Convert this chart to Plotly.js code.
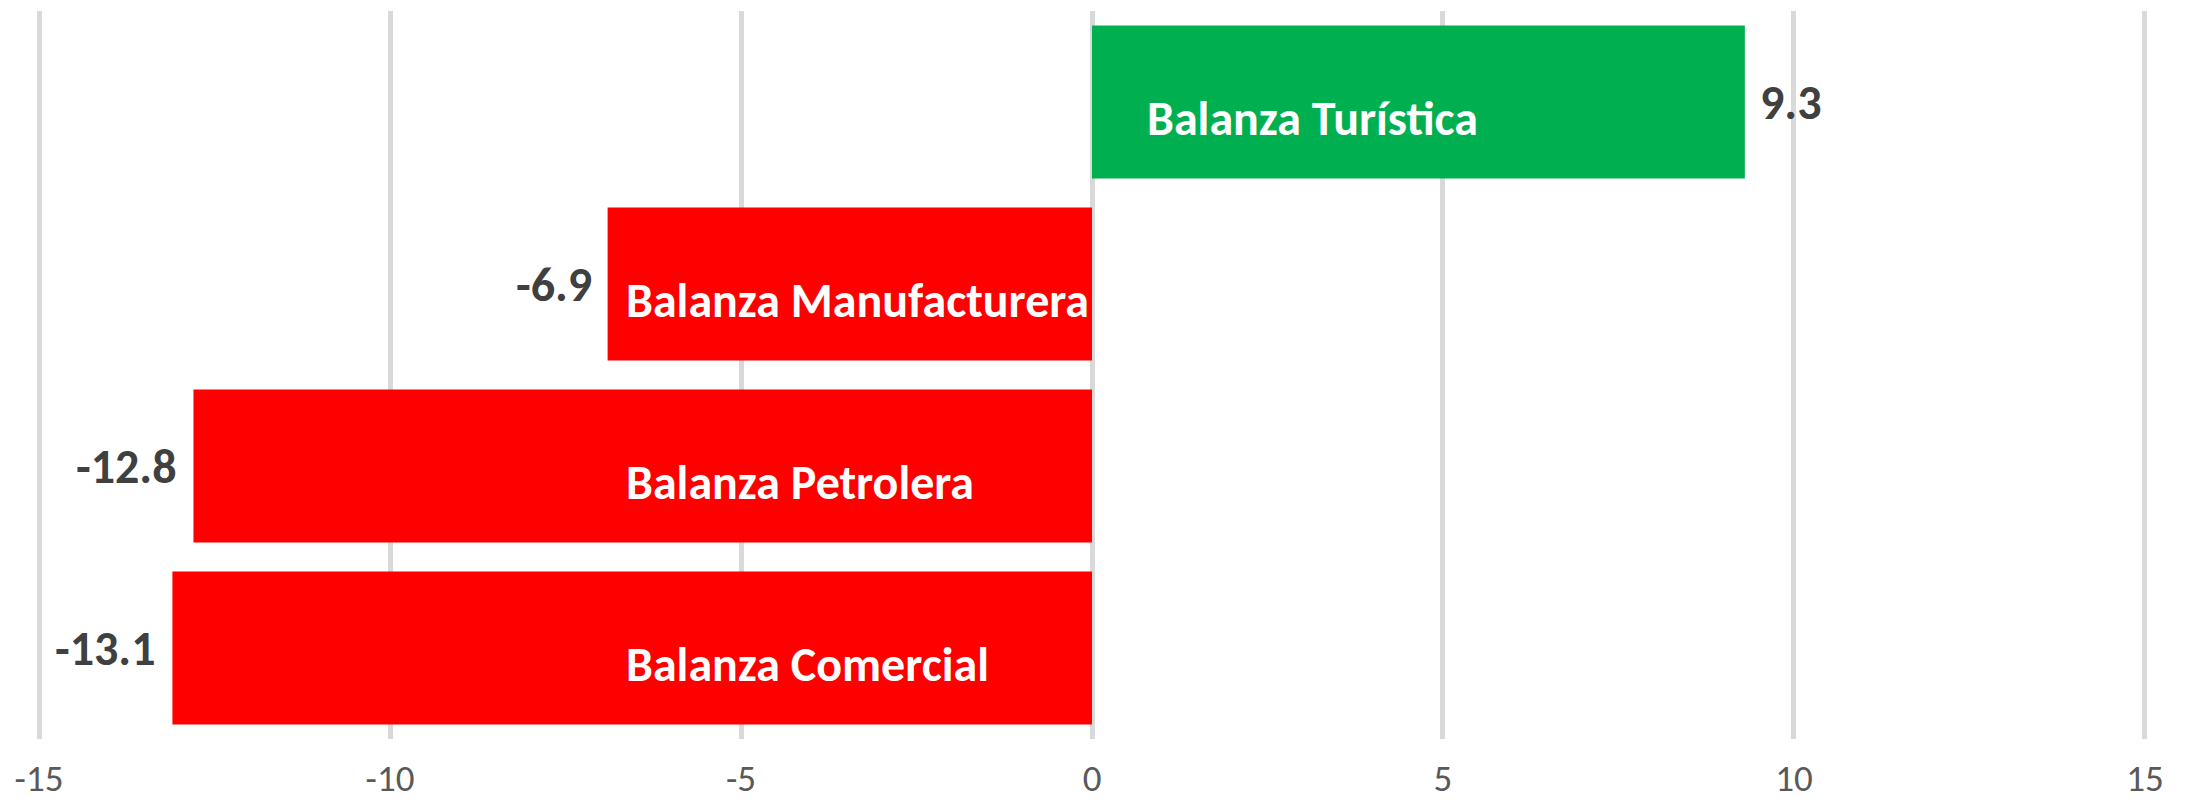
<!DOCTYPE html>
<html>
<head>
<meta charset="utf-8">
<script src="https://cdn.plot.ly/plotly-3.0.1.min.js"></script>
<style>
  html, body { margin: 0; padding: 0; background: #ffffff; }
  #chart { width: 2185px; height: 803px; }
</style>
</head>
<body>
<div id="chart"></div>
<script>
// Data (top to bottom as shown)
const categories = ["Balanza Turística", "Balanza Manufacturera", "Balanza Petrolera", "Balanza Comercial"];
const values = [9.3, -6.9, -12.8, -13.1];
const tickValues = [-15, -10, -5, 0, 5, 10, 15];
const tickLabels = ["-15", "-10", "-5", "0", "5", "10", "15"];

const FONT = "Carlito, Calibri, 'Liberation Sans Narrow', 'Open Sans', sans-serif";
const GREEN = "#00B050";
const RED = "#FF0000";

const barColors = values.map(v => v >= 0 ? GREEN : RED);

const trace = {
  type: "bar",
  orientation: "h",
  y: categories,
  x: values,
  marker: { color: barColors, line: { width: 0 } },
  hoverinfo: "x+y",
  textposition: "none"
};

// Value labels just outside each bar end
const valueAnnotations = categories.map((c, i) => ({
  x: values[i],
  y: c,
  xref: "x",
  yref: "y",
  text: values[i].toFixed(1),
  showarrow: false,
  xanchor: values[i] >= 0 ? "left" : "right",
  xshift: values[i] >= 0 ? 13 : -14,
  yshift: 0,
  font: { family: FONT, size: 48, color: "#404040", weight: "bold" }
}));

// Category labels drawn inside the bars
const catAnnotations = categories.map((c, i) => ({
  x: values[i] >= 0 ? 0.76 : -6.66,
  y: c,
  xref: "x",
  yref: "y",
  text: c,
  showarrow: false,
  xanchor: "left",
  yshift: -16,
  font: { family: FONT, size: 48, color: "#FFFFFF", weight: "bold" }
}));

const layout = {
  width: 2185,
  height: 803,
  margin: { l: 32, r: 33, t: 11, b: 64, pad: 0 },
  paper_bgcolor: "#ffffff",
  plot_bgcolor: "#ffffff",
  showlegend: false,
  bargap: 0.16,
  xaxis: {
    range: [-15.1, 15.1],
    tickmode: "array",
    tickvals: tickValues,
    ticktext: tickLabels,
    showgrid: true,
    gridcolor: "#D9D9D9",
    gridwidth: 5,
    zeroline: false,
    showline: false,
    ticks: "",
    ticklabelstandoff: 14,
    tickfont: { family: FONT, size: 37, color: "#595959" },
    fixedrange: true
  },
  yaxis: {
    type: "category",
    autorange: "reversed",
    showticklabels: false,
    showgrid: false,
    zeroline: false,
    showline: false,
    ticks: "",
    fixedrange: true
  },
  annotations: valueAnnotations.concat(catAnnotations)
};

Plotly.newPlot("chart", [trace], layout, { displayModeBar: false, staticPlot: true });
</script>
</body>
</html>
